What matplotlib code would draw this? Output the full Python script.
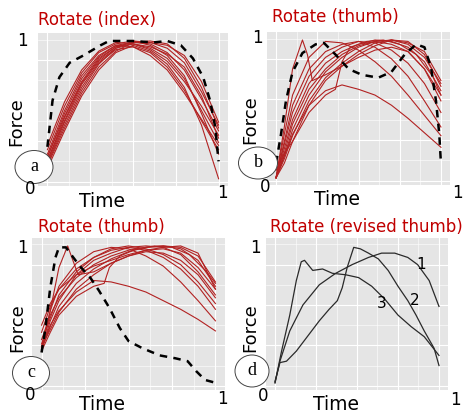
import numpy as np
import matplotlib.pyplot as plt
from matplotlib.patches import Ellipse

W, H = 469, 415
RED = '#b22222'
TITLE_RED = '#c00000'
BG = '#e5e5e5'

# ---------- panel a : Rotate (index) ----------
a_t = [0.0, 0.1, 0.2, 0.3, 0.4, 0.5, 0.6, 0.7, 0.8, 0.9, 1.0]
a_red = [
    [0.25, 0.55, 0.78, 0.92, 0.98, 1.00, 0.99, 0.95, 0.85, 0.65, 0.42],
    [0.20, 0.48, 0.72, 0.88, 0.96, 0.99, 0.98, 0.92, 0.80, 0.60, 0.38],
    [0.15, 0.42, 0.66, 0.84, 0.95, 0.98, 0.95, 0.88, 0.74, 0.52, 0.30],
    [0.18, 0.45, 0.70, 0.86, 0.95, 1.00, 0.97, 0.90, 0.76, 0.50, 0.22],
    [0.12, 0.38, 0.62, 0.80, 0.92, 0.97, 0.93, 0.84, 0.68, 0.42, 0.05],
    [0.22, 0.52, 0.76, 0.90, 0.97, 0.99, 0.99, 0.97, 0.90, 0.72, 0.44],
    [0.16, 0.44, 0.68, 0.85, 0.94, 0.96, 0.92, 0.82, 0.66, 0.45, 0.25],
    [0.28, 0.58, 0.80, 0.93, 0.99, 0.98, 0.94, 0.86, 0.72, 0.55, 0.35],
    [0.14, 0.40, 0.64, 0.82, 0.93, 0.99, 1.00, 0.98, 0.88, 0.68, 0.40],
    [0.20, 0.50, 0.74, 0.89, 0.97, 0.96, 0.90, 0.80, 0.64, 0.46, 0.28],
    [0.17, 0.47, 0.71, 0.87, 0.96, 0.98, 0.96, 0.91, 0.82, 0.62, 0.33],
]
a_dash_t = [0.0, 0.03, 0.07, 0.13, 0.21, 0.31, 0.36, 0.5, 0.62, 0.7, 0.78, 0.85, 0.91, 0.95, 0.98, 1.0]
a_dash_f = [0.27, 0.59, 0.75, 0.85, 0.90, 0.97, 1.0, 1.0, 0.99, 1.0, 0.97, 0.88, 0.75, 0.59, 0.41, 0.17]

# ---------- panel b : Rotate (thumb) ----------
b_t = [0.0, 0.05, 0.1, 0.2, 0.3, 0.4, 0.5, 0.6, 0.7, 0.8, 0.9, 1.0]
b_red = [
    [0.05, 0.20, 0.35, 0.55, 0.65, 0.69, 0.66, 0.62, 0.55, 0.46, 0.36, 0.26],
    [0.05, 0.35, 0.62, 0.88, 0.99, 0.98, 0.93, 0.85, 0.75, 0.62, 0.48, 0.34],
    [0.05, 0.25, 0.45, 0.70, 0.84, 0.92, 0.97, 1.00, 0.99, 0.95, 0.85, 0.65],
    [0.05, 0.20, 0.38, 0.62, 0.78, 0.88, 0.95, 0.99, 1.00, 0.97, 0.88, 0.70],
    [0.10, 0.22, 0.30, 0.55, 0.72, 0.82, 0.90, 0.96, 1.00, 0.99, 0.90, 0.68],
    [0.05, 0.28, 0.50, 0.75, 0.88, 0.95, 0.99, 0.98, 0.93, 0.84, 0.70, 0.50],
    [0.05, 0.22, 0.42, 0.66, 0.80, 0.90, 0.96, 0.99, 0.97, 0.92, 0.80, 0.58],
    [0.05, 0.18, 0.34, 0.58, 0.74, 0.84, 0.92, 0.98, 1.00, 0.98, 0.92, 0.72],
    [0.05, 0.30, 0.55, 0.80, 0.92, 0.97, 0.99, 0.95, 0.87, 0.75, 0.58, 0.40],
]
b_peak_t = [0.0, 0.05, 0.1, 0.16, 0.19, 0.22, 0.3, 0.4, 0.5, 0.6, 0.7, 0.8, 0.9, 1.0]
b_peak_f = [0.05, 0.40, 0.80, 1.00, 0.90, 0.72, 0.76, 0.82, 0.88, 0.93, 0.95, 0.92, 0.80, 0.62]
b_jump_t = [0.0, 0.05, 0.1, 0.2, 0.3, 0.36, 0.40, 0.45, 0.55, 0.65, 0.75, 0.85, 0.95, 1.0]
b_jump_f = [0.05, 0.15, 0.30, 0.50, 0.62, 0.66, 0.85, 0.95, 0.99, 1.00, 0.97, 0.90, 0.75, 0.62]
b_dash_t = [0.0, 0.03, 0.06, 0.10, 0.16, 0.24, 0.29, 0.36, 0.44, 0.52, 0.62, 0.70, 0.78, 0.85, 0.90, 0.94, 0.97, 0.99, 1.0]
b_dash_f = [0.15, 0.35, 0.58, 0.78, 0.91, 0.97, 0.98, 0.90, 0.80, 0.76, 0.74, 0.78, 0.90, 0.97, 0.95, 0.81, 0.58, 0.35, 0.15]

# ---------- panel c : Rotate (thumb) ----------
c_t = [0.0, 0.05, 0.1, 0.2, 0.3, 0.4, 0.5, 0.6, 0.7, 0.8, 0.9, 1.0]
c_red = [
    [0.30, 0.45, 0.55, 0.68, 0.76, 0.75, 0.72, 0.68, 0.62, 0.56, 0.49, 0.41],
    [0.30, 0.55, 0.72, 0.88, 0.96, 0.99, 0.98, 0.93, 0.86, 0.75, 0.62, 0.48],
    [0.28, 0.48, 0.62, 0.80, 0.90, 0.95, 0.99, 1.00, 0.99, 0.94, 0.82, 0.66],
    [0.35, 0.52, 0.64, 0.78, 0.87, 0.93, 0.97, 0.99, 1.00, 0.98, 0.90, 0.72],
    [0.40, 0.58, 0.70, 0.84, 0.92, 0.97, 0.99, 0.97, 0.92, 0.84, 0.72, 0.56],
    [0.28, 0.44, 0.58, 0.74, 0.84, 0.91, 0.96, 0.99, 1.00, 0.99, 0.93, 0.75],
    [0.32, 0.50, 0.66, 0.82, 0.92, 0.98, 1.00, 0.98, 0.94, 0.87, 0.75, 0.60],
    [0.45, 0.60, 0.70, 0.80, 0.86, 0.90, 0.94, 0.97, 0.99, 1.00, 0.95, 0.70],
    [0.30, 0.42, 0.54, 0.70, 0.80, 0.88, 0.93, 0.96, 0.95, 0.90, 0.80, 0.64],
]
c_peak_t = [0.0, 0.05, 0.1, 0.15, 0.18, 0.21, 0.3, 0.4, 0.5, 0.6, 0.7, 0.8, 0.9, 1.0]
c_peak_f = [0.27, 0.55, 0.85, 1.00, 0.90, 0.80, 0.82, 0.88, 0.93, 0.97, 0.98, 0.95, 0.85, 0.70]
c_jump_t = [0.0, 0.05, 0.1, 0.2, 0.3, 0.36, 0.39, 0.45, 0.55, 0.65, 0.75, 0.85, 0.95, 1.0]
c_jump_f = [0.27, 0.40, 0.52, 0.65, 0.72, 0.74, 0.85, 0.93, 0.98, 1.00, 0.99, 0.94, 0.82, 0.74]
c_dash_t = [0.0, 0.02, 0.05, 0.08, 0.10, 0.14, 0.17, 0.22, 0.28, 0.33, 0.39, 0.45, 0.50, 0.58, 0.68, 0.77, 0.84, 0.89, 0.94, 1.0]
c_dash_f = [0.26, 0.41, 0.71, 0.92, 0.99, 0.99, 0.94, 0.86, 0.78, 0.69, 0.57, 0.43, 0.34, 0.29, 0.24, 0.22, 0.20, 0.13, 0.07, 0.05]

# ---------- panel d : Rotate (revised thumb) ----------
d1_t = [0.0, 0.03, 0.09, 0.17, 0.27, 0.37, 0.47, 0.57, 0.65, 0.73, 0.81, 0.87, 0.94, 1.0]
d1_f = [0.05, 0.20, 0.41, 0.59, 0.73, 0.81, 0.87, 0.92, 0.95, 0.95, 0.92, 0.87, 0.76, 0.58]
d2_t = [0.0, 0.03, 0.07, 0.13, 0.19, 0.27, 0.33, 0.38, 0.41, 0.44, 0.48, 0.52, 0.57, 0.63, 0.69, 0.75, 0.81, 0.86, 0.91, 0.97, 1.0]
d2_f = [0.06, 0.19, 0.20, 0.27, 0.36, 0.48, 0.56, 0.62, 0.71, 0.85, 0.99, 0.98, 0.95, 0.91, 0.83, 0.72, 0.62, 0.52, 0.41, 0.29, 0.17]
d3_t = [0.0, 0.04, 0.09, 0.13, 0.16, 0.18, 0.23, 0.29, 0.35, 0.43, 0.51, 0.59, 0.67, 0.75, 0.83, 0.91, 1.0]
d3_f = [0.05, 0.27, 0.52, 0.76, 0.89, 0.90, 0.83, 0.84, 0.81, 0.80, 0.78, 0.72, 0.63, 0.52, 0.44, 0.37, 0.24]
d_labels = ['1', '2', '3']

titles = ['Rotate (index)', 'Rotate (thumb)', 'Rotate (thumb)', 'Rotate (revised thumb)']
letters = ['a', 'b', 'c', 'd']

fig = plt.figure(figsize=(W / 100, H / 100), dpi=100)


def add_panel(x0, y0, x1, y1):
    ax = fig.add_axes([x0 / W, 1 - y1 / H, (x1 - x0) / W, (y1 - y0) / H])
    ax.set_facecolor(BG)
    ax.set_xlim(-0.055, 1.055)
    ax.set_ylim(0, 1.055)
    gx = np.arange(0.0, 1.06, 0.125)
    gy = np.arange(0.03, 1.05, 0.14)
    ax.set_xticks(gx[::2])
    ax.set_xticks(gx[1::2], minor=True)
    ax.set_yticks(gy[::2])
    ax.set_yticks(gy[1::2], minor=True)
    ax.grid(which='major', color='white', lw=0.8)
    ax.grid(which='minor', color='white', lw=0.4)
    ax.tick_params(which='both', length=0, labelbottom=False, labelleft=False)
    for s in ax.spines.values():
        s.set_visible(False)
    ax.set_axisbelow(True)
    return ax


ax_a = add_panel(38, 33, 228, 186)
ax_b = add_panel(267, 32, 450, 185)
ax_c = add_panel(32, 238, 225, 390)
ax_d = add_panel(266, 238, 448, 390)

# panel a
for f in a_red:
    ax_a.plot(a_t, f, color=RED, lw=0.8)
ax_a.plot(a_dash_t, a_dash_f, color='black', lw=1.8, ls=(0, (3, 2.5)))

# panel b
for f in b_red:
    ax_b.plot(b_t, f, color=RED, lw=0.8)
ax_b.plot(b_peak_t, b_peak_f, color=RED, lw=0.8)
ax_b.plot(b_jump_t, b_jump_f, color=RED, lw=0.8)
ax_b.plot(b_dash_t, b_dash_f, color='black', lw=1.8, ls=(0, (3, 2.5)))

# panel c
for f in c_red:
    ax_c.plot(c_t, f, color=RED, lw=0.8)
ax_c.plot(c_peak_t, c_peak_f, color=RED, lw=0.8)
ax_c.plot(c_jump_t, c_jump_f, color=RED, lw=0.8)
ax_c.plot(c_dash_t, c_dash_f, color='black', lw=1.8, ls=(0, (3, 2.5)))

# panel d
for t, f in [(d1_t, d1_f), (d2_t, d2_f), (d3_t, d3_f)]:
    ax_d.plot(t, f, color='#2a2a2a', lw=0.9)
ax_d.text(0.89, 0.87, d_labels[0], fontsize=11, ha='center', va='center')
ax_d.text(0.85, 0.62, d_labels[1], fontsize=11, ha='center', va='center')
ax_d.text(0.65, 0.60, d_labels[2], fontsize=11, ha='center', va='center')

# overlay in pixel coordinates for the labels and circles
ov = fig.add_axes([0, 0, 1, 1])
ov.set_xlim(0, W)
ov.set_ylim(H, 0)
ov.axis('off')

title_pos = [(38, 20), (272, 17), (38, 227), (270, 227)]
for (x, y), s in zip(title_pos, titles):
    ov.text(x, y, s, color=TITLE_RED, fontsize=12, ha='left', va='center')

one_top = [(22, 41), (257, 38), (22, 248), (255, 248)]
zero = [(30, 189), (265, 187), (30, 395), (263, 396)]
one_right = [(222, 193), (457, 193), (222, 399), (455, 400)]
for pts in (one_top, one_right):
    for x, y in pts:
        ov.text(x, y, '1', fontsize=12, ha='center', va='center')
for x, y in zero:
    ov.text(x, y, '0', fontsize=12, ha='center', va='center')

force_pos = [(16, 122), (250, 120), (17, 328), (250, 328)]
time_pos = [(102, 201), (337, 199), (102, 404), (336, 404)]
for x, y in force_pos:
    ov.text(x, y, 'Force', fontsize=13, rotation=90, ha='center', va='center')
for x, y in time_pos:
    ov.text(x, y, 'Time', fontsize=13.5, ha='center', va='center')

circle_pos = [(34, 167, 38, 33), (258, 163, 39, 32), (31, 373, 37, 33), (252, 371, 34, 32)]
for (x, y, w, h), s in zip(circle_pos, letters):
    ov.add_patch(Ellipse((x, y), w, h, facecolor='white', edgecolor='#444444', lw=0.7))
    ov.text(x, y - 1, s, fontsize=13, family='Liberation Serif', ha='center', va='center')

fig.savefig('out.png', dpi=100)
